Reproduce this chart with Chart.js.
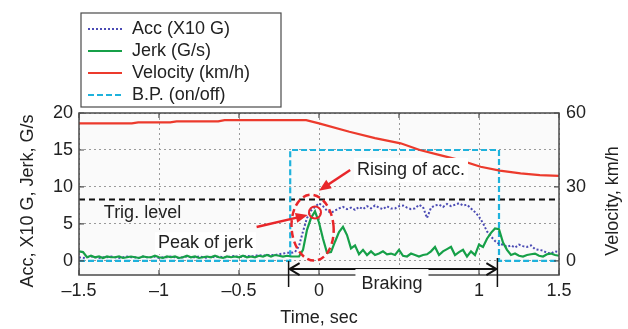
<!DOCTYPE html>
<html lang="en">
<head>
<meta charset="UTF-8">
<title>Acc, jerk and velocity while braking</title>
<style>
  body { margin: 0; background: #fff; }
  #chart { display: block; }
</style>
<script src="https://cdn.jsdelivr.net/npm/chart.js"></script>
</head>
<body>
<canvas id="chart" width="628" height="329"></canvas>
<script>
// sampled traces run from -1.5 s to 1.5 s, one value every 25 ms
const startTime = -1.5;
const sampleStep = 0.025;

// Acc (X10 G) - dotted trace
const accValues = [
  0.5, 0.4, 0.5, 0.6, 0.5, 0.4, 0.5, 0.5, 0.6, 0.5,
  0.4, 0.5, 0.6, 0.5, 0.5, 0.4, 0.6, 0.5, 0.5, 0.6,
  0.4, 0.5, 0.5, 0.6, 0.5, 0.4, 0.5, 0.6, 0.5, 0.5,
  0.6, 0.5, 0.4, 0.6, 0.5, 0.6, 0.5, 0.5, 0.6, 0.7,
  0.5, 0.6, 0.7, 0.6, 0.7, 0.8, 0.7, 0.8, 0.8, 0.8,
  0.9, 1.0, 1.1, 1.1, 1.2, 2.0, 4.0, 5.8, 6.8, 7.3,
  7.8, 7.4, 6.8, 6.5, 6.8, 7.1, 7.3, 7.0, 7.2, 6.9,
  7.3, 7.0, 7.4, 7.1, 7.5, 7.2, 7.0, 7.4, 7.1, 7.1,
  7.4, 7.5, 7.2, 7.0, 7.1, 7.6, 7.3, 5.8, 7.2, 7.5,
  7.6, 7.3, 7.7, 7.4, 7.6, 7.8, 7.5, 7.6, 7.1, 6.6,
  6.0, 5.1, 4.0, 3.3, 2.7, 2.3, 2.2, 1.9, 2.1, 1.8,
  2.2, 2.0, 1.9, 2.1, 1.6, 1.5, 1.4, 1.1, 1.0, 1.3,
  1.2
];

// Jerk (G/s)
const jerkValues = [
  1.3, 1.2, 0.5, 0.7, 0.5, 0.6, 0.4, 0.6, 0.5, 0.5,
  0.6, 0.4, 0.5, 0.6, 0.5, 0.4, 0.6, 0.5, 0.5, 0.7,
  0.5, 0.4, 0.6, 0.5, 0.6, 0.4, 0.5, 0.7, 0.5, 0.6,
  0.4, 0.5, 0.6, 0.5, 0.7, 0.5, 0.4, 0.6, 0.5, 0.6,
  0.5, 0.7, 0.5, 0.6, 0.5, 0.7, 0.6, 0.8, 0.6, 0.8,
  0.7, 0.6, 0.7, 0.6, 0.6, 0.6, 1.5, 4.2, 5.8, 6.7,
  5.2, 3.0, 1.1, 1.2, 2.6, 3.9, 4.6, 3.5, 1.7, 2.1,
  0.9, 1.5, 0.8, 1.3, 0.8, 1.0, 1.3, 0.9, 1.0, 0.8,
  1.5, 0.7, 0.6, 1.0, 0.8, 0.6, 0.8, 0.9, 1.3, 1.9,
  0.8, 1.3, 1.6, 1.9, 0.8, 1.2, 1.5, 0.6, 1.3, 0.8,
  2.2, 1.9, 3.0, 3.8, 4.4, 4.3, 2.5, 1.5, 0.8, 1.0,
  0.7, 0.6, 0.8, 0.9, 1.0, 0.7, 0.6, 0.9, 1.0, 0.8,
  0.7
];

// Velocity (km/h), right axis
const velTimes  = [-1.5, -1.17, -1.13, -0.93, -0.89, -0.63, -0.59, -0.08, 0.0, 0.19, 0.35, 0.51, 0.63, 0.75, 0.88, 1.01, 1.13, 1.26, 1.38, 1.5];
const velValues = [55.8, 55.8, 56.2, 56.2, 56.6, 56.6, 57.1, 57.1, 55.8, 52.4, 49.8, 47.7, 45.0, 43.0, 40.9, 38.2, 36.6, 35.5, 34.8, 34.5];

// B.P. (on/off), drawn at 0 / 15 on the left axis
const bpTimes  = [-1.5, -0.18, -0.18, 1.125, 1.125, 1.5];
const bpValues = [0, 0, 15, 15, 0, 0];

const trigLevel = 8.3;

const xTicks = [-1.5, -1, -0.5, 0, 0.5, 1, 1.5];
const leftTicks = [0, 5, 10, 15, 20];
const rightTicks = [0, 30, 60];

const FONT = "'Liberation Sans', Arial, Helvetica, sans-serif";
const TXT = '#222';
Chart.defaults.font.family = FONT;
Chart.defaults.font.size = 18;
Chart.defaults.color = TXT;

const sampleTimes = accValues.map((v, i) => startTime + i * sampleStep);
const pts = (xs, ys) => ys.map((y, i) => ({x: xs[i], y: y}));

function minus(v) {
  return v < 0 ? '\u2013' + Math.abs(v) : String(v);
}

function arrow(ctx, x1, y1, x2, y2, color) {
  const a = Math.atan2(y2 - y1, x2 - x1);
  ctx.strokeStyle = color;
  ctx.fillStyle = color;
  ctx.lineWidth = 2.5;
  ctx.setLineDash([]);
  ctx.beginPath();
  ctx.moveTo(x1, y1);
  ctx.lineTo(x2 - 8 * Math.cos(a), y2 - 8 * Math.sin(a));
  ctx.stroke();
  ctx.beginPath();
  ctx.moveTo(x2, y2);
  ctx.lineTo(x2 - 12 * Math.cos(a) + 5 * Math.sin(a), y2 - 12 * Math.sin(a) - 5 * Math.cos(a));
  ctx.lineTo(x2 - 12 * Math.cos(a) - 5 * Math.sin(a), y2 - 12 * Math.sin(a) + 5 * Math.cos(a));
  ctx.closePath();
  ctx.fill();
}

function boxedText(ctx, text, cx, cy, padX, padY) {
  ctx.font = '18px ' + FONT;
  const w = ctx.measureText(text).width;
  ctx.fillStyle = '#fff';
  ctx.fillRect(cx - w / 2 - padX, cy - 10 - padY, w + 2 * padX, 20 + 2 * padY);
  ctx.fillStyle = TXT;
  ctx.textAlign = 'center';
  ctx.textBaseline = 'middle';
  ctx.fillText(text, cx, cy);
}

function sideTitle(ctx, text, x, y) {
  ctx.save();
  ctx.translate(x, y);
  ctx.rotate(-Math.PI / 2);
  ctx.font = '18px ' + FONT;
  ctx.fillStyle = TXT;
  ctx.textAlign = 'center';
  ctx.textBaseline = 'middle';
  ctx.fillText(text, 0, 0);
  ctx.restore();
}

// plot background
const plotBg = {
  id: 'plotBg',
  beforeDraw(chart) {
    const {ctx, chartArea: a} = chart;
    ctx.save();
    ctx.fillStyle = '#fafafa';
    ctx.fillRect(a.left, a.top, a.right - a.left, a.bottom - a.top);
    ctx.restore();
  }
};

// frame, inward ticks, axis titles, notes and the boxed legend
const decorations = {
  id: 'decorations',
  afterDatasetsDraw(chart) {
    const {ctx, chartArea: a, scales} = chart;
    const X = v => scales.x.getPixelForValue(v);
    const Y = v => scales.y.getPixelForValue(v);
    ctx.save();

    // frame
    ctx.setLineDash([]);
    ctx.strokeStyle = '#4a4a4a';
    ctx.lineWidth = 1.5;
    ctx.strokeRect(a.left, a.top, a.right - a.left, a.bottom - a.top);
    ctx.lineWidth = 1.2;
    ctx.beginPath();
    xTicks.forEach(v => {
      ctx.moveTo(X(v), a.bottom); ctx.lineTo(X(v), a.bottom - 5);
      ctx.moveTo(X(v), a.top); ctx.lineTo(X(v), a.top + 5);
    });
    leftTicks.forEach(v => { ctx.moveTo(a.left, Y(v)); ctx.lineTo(a.left + 5, Y(v)); });
    rightTicks.forEach(v => {
      const py = scales.y2.getPixelForValue(v);
      ctx.moveTo(a.right, py); ctx.lineTo(a.right - 5, py);
    });
    ctx.stroke();

    // both side titles read bottom to top
    sideTitle(ctx, 'Acc, X10 G, Jerk, G/s', 28, 201);
    sideTitle(ctx, 'Velocity, km/h', 613, 201);

    // trigger level label
    ctx.font = '18px ' + FONT;
    ctx.fillStyle = TXT;
    ctx.textAlign = 'left';
    ctx.textBaseline = 'middle';
    ctx.fillText('Trig. level', X(-1.345), Y(6.5));

    // peak of jerk
    boxedText(ctx, 'Peak of jerk', X(-0.71), Y(2.4), 3, 1);
    arrow(ctx, X(-0.39), Y(4.6), X(-0.07), Y(6.2), '#e8262a');
    ctx.strokeStyle = '#e8262a';
    ctx.lineWidth = 2;
    ctx.beginPath();
    ctx.arc(X(-0.025), Y(6.55), 6, 0, Math.PI * 2);
    ctx.stroke();
    ctx.setLineDash([7, 4]);
    ctx.lineWidth = 2.5;
    ctx.beginPath();
    ctx.ellipse(X(-0.04), Y(4.5), 21, 33, -0.08, 0, Math.PI * 2);
    ctx.stroke();

    // rising of acc.
    boxedText(ctx, 'Rising of acc.', X(0.575), Y(12.3), 3, 2);
    arrow(ctx, X(0.195), Y(12.3), X(0.0), Y(9.5), '#e8262a');

    // braking span
    const bx1 = X(-0.19), bx2 = X(1.115), by = Y(-1.1);
    ctx.setLineDash([]);
    ctx.strokeStyle = '#111';
    ctx.lineWidth = 1.5;
    ctx.beginPath();
    ctx.moveTo(bx1, by - 8); ctx.lineTo(bx1, by + 18);
    ctx.moveTo(bx2, by - 11); ctx.lineTo(bx2, by + 18);
    ctx.stroke();
    ctx.lineWidth = 2;
    ctx.beginPath();
    ctx.moveTo(bx1 + 1, by); ctx.lineTo(bx2 - 1, by);
    ctx.moveTo(bx1 + 11, by - 6); ctx.lineTo(bx1 + 1, by); ctx.lineTo(bx1 + 11, by + 6);
    ctx.moveTo(bx2 - 11, by - 6); ctx.lineTo(bx2 - 1, by); ctx.lineTo(bx2 - 11, by + 6);
    ctx.stroke();
    boxedText(ctx, 'Braking', X(0.456), by + 15, 6, 5);

    // legend box
    const lx = 81, ly = 13, lw = 200, lh = 94;
    ctx.fillStyle = '#fff';
    ctx.fillRect(lx, ly, lw, lh);
    ctx.strokeStyle = '#4a4a4a';
    ctx.lineWidth = 1.2;
    ctx.strokeRect(lx, ly, lw, lh);
    chart.data.datasets.filter(d => d.label).forEach((d, i) => {
      const ry = ly + 16 + i * 22;
      ctx.strokeStyle = d.borderColor;
      ctx.lineWidth = d.borderWidth;
      ctx.setLineDash(d.borderDash || []);
      ctx.beginPath();
      ctx.moveTo(lx + 7, ry); ctx.lineTo(lx + 41, ry);
      ctx.stroke();
      ctx.fillStyle = TXT;
      ctx.textAlign = 'left';
      ctx.textBaseline = 'middle';
      ctx.fillText(d.label, lx + 51, ry);
    });
    ctx.restore();
  }
};

new Chart(document.getElementById('chart'), {
  type: 'line',
  data: {
    datasets: [
      { label: 'Acc (X10 G)', data: pts(sampleTimes, accValues), yAxisID: 'y',
        borderColor: '#4b4bb4', borderWidth: 2, borderDash: [2, 2], order: 1 },
      { label: 'Jerk (G/s)', data: pts(sampleTimes, jerkValues), yAxisID: 'y',
        borderColor: '#16a048', borderWidth: 2.2, order: 0 },
      { label: 'Velocity (km/h)', data: pts(velTimes, velValues), yAxisID: 'y2',
        borderColor: '#ec3a2c', borderWidth: 2.2, order: 2 },
      { label: 'B.P. (on/off)', data: pts(bpTimes, bpValues), yAxisID: 'y',
        borderColor: '#1fb2dc', borderWidth: 2.2, borderDash: [6, 3], order: 3 },
      { label: '', data: [{x: -1.5, y: trigLevel}, {x: 1.5, y: trigLevel}], yAxisID: 'y',
        borderColor: '#111', borderWidth: 2, borderDash: [6, 4], order: 4 }
    ]
  },
  options: {
    responsive: false,
    animation: false,
    events: [],
    layout: { padding: { top: 113, left: 0, right: 0, bottom: 0 } },
    elements: { point: { radius: 0 }, line: { tension: 0, fill: false } },
    plugins: { legend: { display: false }, tooltip: { enabled: false } },
    scales: {
      x: {
        type: 'linear', min: -1.5, max: 1.5,
        afterBuildTicks: s => { s.ticks = xTicks.map(v => ({value: v})); },
        afterFit: s => { s.height = 54; },
        grid: { color: '#9a9a9a', lineWidth: 1, drawTicks: false },
        border: { display: false, dash: [2, 3] },
        ticks: { padding: 5, maxRotation: 0, autoSkip: false, callback: v => minus(v) },
        title: { display: true, text: 'Time, sec', padding: { top: 0, bottom: 0 } }
      },
      y: {
        position: 'left', min: -1.9, max: 20,
        afterBuildTicks: s => { s.ticks = leftTicks.map(v => ({value: v})); },
        afterFit: s => { s.width = 79; },
        grid: { color: '#9a9a9a', lineWidth: 1, drawTicks: false },
        border: { display: false, dash: [2, 3] },
        ticks: { padding: 6 }
      },
      y2: {
        position: 'right', min: -5.7, max: 60,
        afterBuildTicks: s => { s.ticks = rightTicks.map(v => ({value: v})); },
        afterFit: s => { s.width = 69; },
        grid: { display: false, drawTicks: false },
        border: { display: false },
        ticks: { padding: 7 }
      }
    }
  },
  plugins: [plotBg, decorations]
});
</script>
</body>
</html>
